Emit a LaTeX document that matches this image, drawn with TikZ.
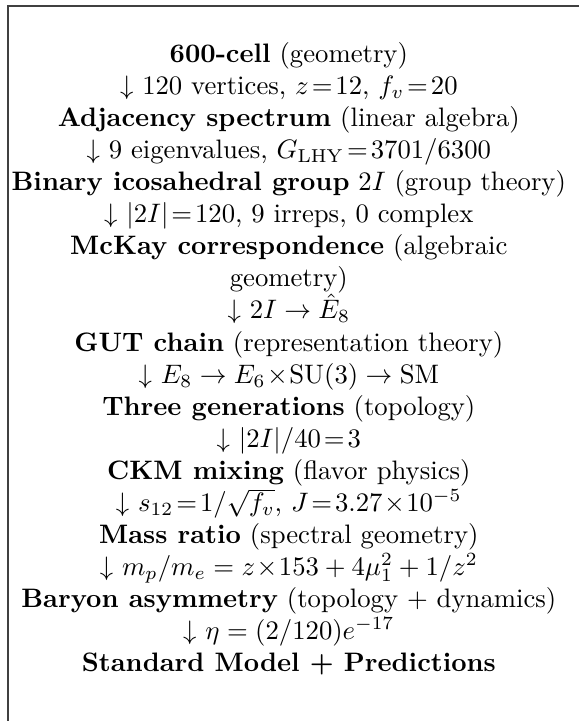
\documentclass[tikz,border=0pt]{standalone}
\usetikzlibrary{positioning}

\tikzset{
  frame/.style={draw=black!75,line width=0.75pt},
  row/.style={anchor=base,inner sep=0pt,align=center}
}

\begin{document}
\begin{tikzpicture}[x=1pt,y=1pt]
  \useasboundingbox (0,0) rectangle (216.9,270.1);
  % frame, cut off at the right and at the bottom
  \draw[frame] (3.1,-20)--(3.1,268.0)--(240,268.0);
  \coordinate (top) at (108.2,246.6);
  \node[row] (geo) at (top) {\textbf{600-cell} (geometry)};
  \node[row,below=12pt of geo.base,anchor=base] (geoadj)
    {$\downarrow$ 120 vertices, $z\!=\!12$, $f_v\!=\!20$};
  \node[row,below=12pt of geoadj.base,anchor=base] (adj)
    {\textbf{Adjacency spectrum} (linear algebra)};
  \node[row,below=12pt of adj.base,anchor=base] (adjgrp)
    {$\downarrow$ 9 eigenvalues, $G_{\mathrm{LHY}}\!=\!3701/6300$};
  \node[row,below=12pt of adjgrp.base,anchor=base] (grp)
    {\textbf{Binary icosahedral group} $2I$ (group theory)};
  \node[row,below=12pt of grp.base,anchor=base] (grpmck)
    {$\downarrow$ $|2I|\!=\!120$, 9 irreps, 0 complex};
  % two lines: base is the last one
  \node[row,below=24pt of grpmck.base,anchor=base] (mck)
    {\textbf{McKay correspondence} (algebraic\\geometry)};
  \node[row,below=12pt of mck.base,anchor=base] (mckgut)
    {$\downarrow$ $2I\to\hat{E}_8$};
  \node[row,below=12pt of mckgut.base,anchor=base] (gut)
    {\textbf{GUT chain} (representation theory)};
  \node[row,below=12pt of gut.base,anchor=base] (gutgen)
    {$\downarrow$ $E_8\to E_6\!\times\!\mathrm{SU}(3)\to\mathrm{SM}$};
  \node[row,below=12pt of gutgen.base,anchor=base] (gen)
    {\textbf{Three generations} (topology)};
  \node[row,below=12pt of gen.base,anchor=base] (genckm)
    {$\downarrow$ $|2I|/40\!=\!3$};
  \node[row,below=12pt of genckm.base,anchor=base] (ckm)
    {\textbf{CKM mixing} (flavor physics)};
  \node[row,below=12pt of ckm.base,anchor=base] (ckmmass)
    {$\downarrow$ $s_{12}\!=\!1/\sqrt{f_v}$, $J\!=\!3.27\!\times\!10^{-5}$};
  \node[row,below=12pt of ckmmass.base,anchor=base] (mass)
    {\textbf{Mass ratio} (spectral geometry)};
  \node[row,below=12pt of mass.base,anchor=base] (massbary)
    {$\downarrow$ $m_p/m_e = z\!\times\!153 + 4\mu_1^2 + 1/z^2$};
  \node[row,below=12pt of massbary.base,anchor=base] (bary)
    {\textbf{Baryon asymmetry} (topology + dynamics)};
  \node[row,below=12pt of bary.base,anchor=base] (barysm)
    {$\downarrow$ $\eta = (2/120)e^{-17}$};
  \node[row,below=12pt of barysm.base,anchor=base] (sm)
    {\textbf{Standard Model + Predictions}};
\end{tikzpicture}
\end{document}
